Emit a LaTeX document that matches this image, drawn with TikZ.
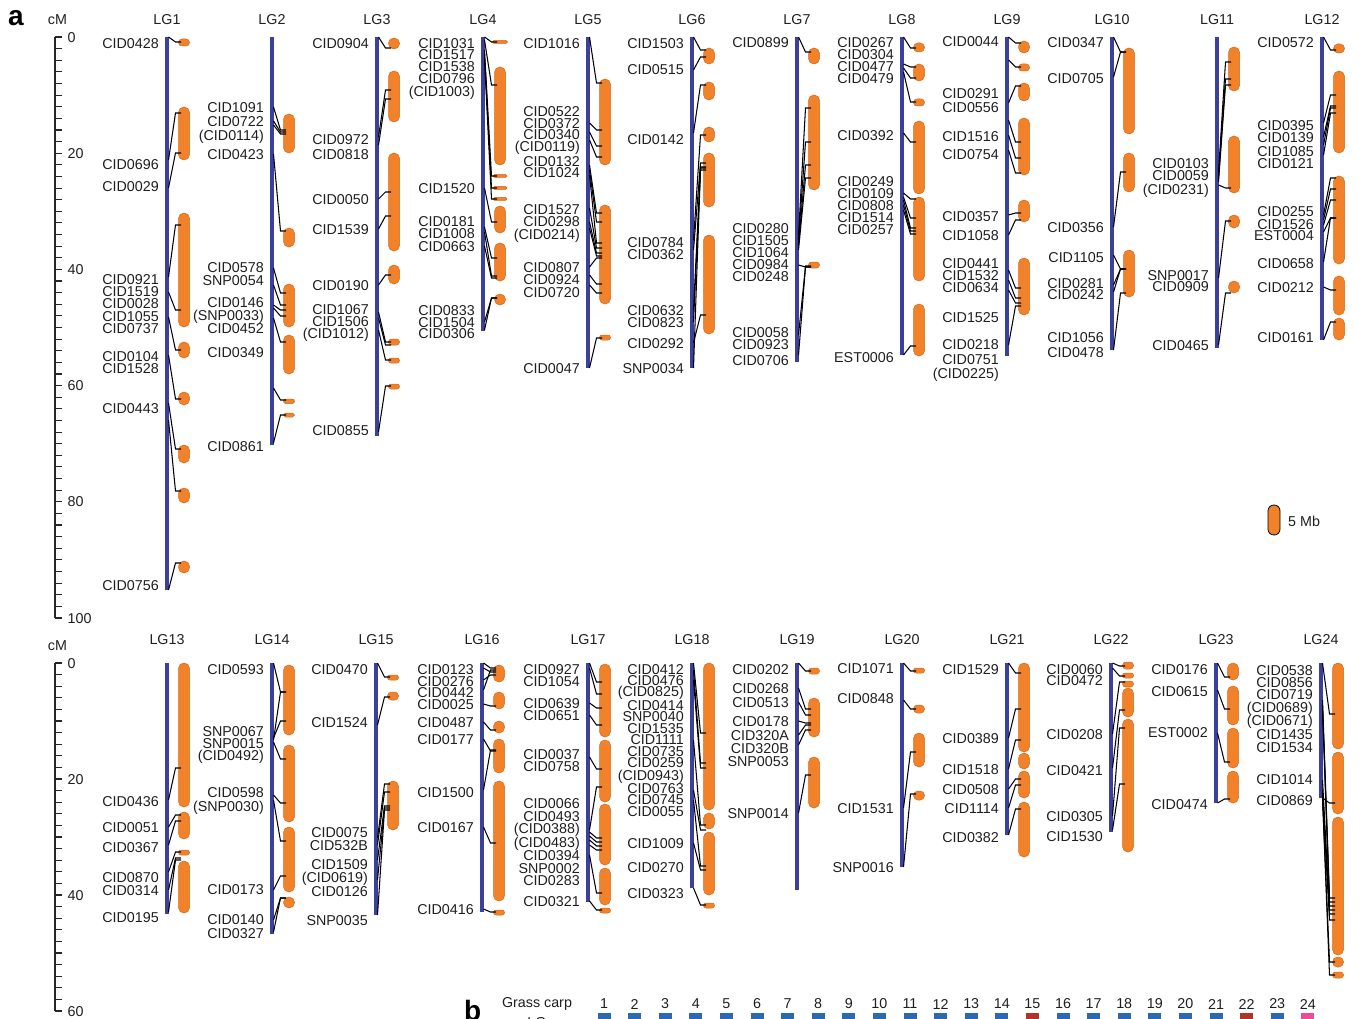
\documentclass[tikz,border=0pt]{standalone}
\usepackage{fontspec}
\setmainfont{Liberation Sans}
\definecolor{chromblue}{RGB}{58,64,156}
\definecolor{scaforange}{RGB}{242,130,42}
\definecolor{scafedge}{RGB}{212,104,28}
\definecolor{sqblue}{RGB}{42,106,178}
\definecolor{sqred}{RGB}{178,52,36}
\definecolor{sqpink}{RGB}{236,76,152}
\newcount\nodeno
\def\bx{0}
\newcommand\lgrp[5]{\gdef\bx{#2}\node[ttl] (LG#1) at (#2,#5) {LG#1};\draw[chrom] (#2,#3) -- (#2,#4);}
\newcommand\mylab[2]{\global\advance\nodeno by 1 \node[lab] (m\the\nodeno) at (\bx-8,#2) {#1};}
\newcommand\scf[3][11]{\pgfmathsetmacro\rr{0.97*min(#1/2,(#3-#2)/2)}\draw[scaf,rounded corners=\rr pt] (\bx+17-#1/2,#2) rectangle (\bx+17+#1/2,#3);}
\newcommand\cnx[2]{\draw[con] (\bx+1.5,#1) -- (\bx+8.5,#2) -- (\bx+14,#2);}
\tikzset{
  lab/.style={anchor=east, inner sep=0pt, text=black!88, font=\fontsize{14.3}{14}\selectfont, text height=10.2pt, text depth=0pt},
  axl/.style={lab, anchor=west},
  ttl/.style={inner sep=0pt, text=black!88, font=\fontsize{14.3}{14}\selectfont},
  chrom/.style={draw=chromblue, line width=3.6pt},
  scaf/.style={fill=scaforange, draw=scafedge, line width=0.5pt},
  con/.style={draw=black, line width=1.05pt},
  axis/.style={draw=black!85, line width=1.1pt},
  panel/.style={inner sep=0pt, font=\fontsize{28}{28}\selectfont\bfseries}
}
\begin{document}
\begin{tikzpicture}[x=1pt,y=-1pt]
\useasboundingbox (0,0) rectangle (1359,1019);
\clip (0,0) rectangle (1359,1019);
\fill[white] (0,0) rectangle (1359,1019);
% panel letters
\node[panel] (pa) at (16,18) {a};
\node[panel, anchor=base west] (pb) at (464,1020) {b};
% axes
\node[ttl] (cm1) at (57.5,20) {cM};
\draw[axis] (55,37) -- (55,618);
\foreach \c in {0,2,...,100} \draw[axis] (55,37+\c*5.81) -- (62,37+\c*5.81);
\foreach \c in {0,20,...,100} \node[axl] (ax\c) at (67.5,37+\c*5.81) {\c};
\node[ttl] (cm2) at (57.5,646) {cM};
\draw[axis] (55,663) -- (55,1011);
\foreach \c in {0,2,...,60} \draw[axis] (55,663+\c*5.8) -- (62,663+\c*5.8);
\foreach \c in {0,20,...,60} \node[axl] (bx\c) at (67.5,663+\c*5.8) {\c};
% ---------------- LG1
\lgrp{1}{167}{37}{590}{20}
\scf{39}{46}\scf{107}{160}\scf{213}{327}\scf{342}{358}\scf{392}{405}\scf{445}{463}\scf{488}{503}\scf{561}{573}
\cnx{37}{42}\cnx{160}{113}\cnx{188}{153}\cnx{277}{225}\cnx{292}{310}\cnx{317}{350}\cnx{355}{399}\cnx{403}{449}\cnx{420}{491}\cnx{590}{563}
\mylab{CID0428}{43}\mylab{CID0696}{164}\mylab{CID0029}{186}\mylab{CID0921}{279}\mylab{CID1519}{291}\mylab{CID0028}{303}\mylab{CID1055}{316}\mylab{CID0737}{328}\mylab{CID0104}{356}\mylab{CID1528}{368}\mylab{CID0443}{408}\mylab{CID0756}{585}
% ---------------- LG2
\lgrp{2}{272}{37}{445}{20}
\scf{114}{153}\scf{228}{247}\scf{284}{327}\scf{335}{374}\scf{399}{403.5}\scf{413}{417}
\cnx{107}{130}\cnx{121}{132}\cnx{125}{134}\cnx{154}{231}\cnx{268}{293}\cnx{285}{305}\cnx{305}{310}\cnx{308}{316}\cnx{318}{342}\cnx{388}{400}\cnx{443}{415}
\mylab{CID1091}{107}\mylab{CID0722}{121}\mylab{(CID0114)}{135}\mylab{CID0423}{154}\mylab{CID0578}{267}\mylab{SNP0054}{280}\mylab{CID0146}{302}\mylab{(SNP0033)}{315}\mylab{CID0452}{328}\mylab{CID0349}{352}\mylab{CID0861}{446}
% ---------------- LG3
\lgrp{3}{377}{37}{436}{20}
\scf{38}{49}\scf{71}{122}\scf{153}{251}\scf{265}{284}\scf{339}{345}\scf{358}{363}\scf{384}{389}
\cnx{37}{48}\cnx{137}{90}\cnx{145}{99}\cnx{199}{192}\cnx{229}{216}\cnx{285}{275}\cnx{312}{342}\cnx{318}{345}\cnx{330}{360}\cnx{432}{386}
\mylab{CID0904}{43}\mylab{CID0972}{139}\mylab{CID0818}{154}\mylab{CID0050}{199}\mylab{CID1539}{229}\mylab{CID0190}{285}\mylab{CID1067}{309}\mylab{CID1506}{321}\mylab{(CID1012)}{333}\mylab{CID0855}{430}
% ---------------- LG4
\lgrp{4}{483}{37}{331}{20}
\scf[15]{40.5}{43.5}\scf{67}{165}\scf[14]{174.5}{177.5}\scf[14]{186.5}{189.5}\scf[14]{197.5}{200.5}\scf{206}{233}\scf{243}{281}\scf{294}{305}
\cnx{37}{42}\cnx{40}{85}\cnx{50}{176}\cnx{55}{188}\cnx{60}{199}\cnx{188}{222}\cnx{227}{258}\cnx{232}{276}\cnx{246}{278}\cnx{322}{298}\cnx{330}{298}
\mylab{CID1031}{43}\mylab{CID1517}{54}\mylab{CID1538}{66}\mylab{CID0796}{78}\mylab{(CID1003)}{91}\mylab{CID1520}{188}\mylab{CID0181}{221}\mylab{CID1008}{233}\mylab{CID0663}{246}\mylab{CID0833}{310}\mylab{CID1504}{322}\mylab{CID0306}{333}
% ---------------- LG5
\lgrp{5}{588}{37}{368}{20}
\scf{79}{165}\scf{205}{304}\scf{335}{340}
\cnx{37}{83}\cnx{123}{130}\cnx{132}{146}\cnx{140}{157}\cnx{165}{213}\cnx{170}{222}\cnx{175}{243}\cnx{208}{248}\cnx{222}{253}\cnx{228}{256}\cnx{267}{258}\cnx{275}{284}\cnx{285}{293}\cnx{368}{338}
\mylab{CID1016}{43}\mylab{CID0522}{111}\mylab{CID0372}{123}\mylab{CID0340}{134}\mylab{(CID0119)}{146}\mylab{CID0132}{161}\mylab{CID1024}{172}\mylab{CID1527}{209}\mylab{CID0298}{221}\mylab{(CID0214)}{234}\mylab{CID0807}{267}\mylab{CID0924}{279}\mylab{CID0720}{292}\mylab{CID0047}{368}
% ---------------- LG6
\lgrp{6}{692}{37}{368}{20}
\scf{48}{64}\scf{82}{100}\scf{127}{142}\scf{153}{207}\scf{235}{334}
\cnx{37}{50}\cnx{70}{57}\cnx{133}{85}\cnx{240}{135}\cnx{250}{163}\cnx{310}{167}\cnx{322}{170}\cnx{343}{315}\cnx{368}{168}
\mylab{CID1503}{43}\mylab{CID0515}{69}\mylab{CID0142}{139}\mylab{CID0784}{242}\mylab{CID0362}{254}\mylab{CID0632}{310}\mylab{CID0823}{322}\mylab{CID0292}{343}\mylab{SNP0034}{368}
% ---------------- LG7
\lgrp{7}{797}{37}{362}{20}
\scf{48}{64}\scf{95}{190}\scf{262}{268}
\cnx{37}{52}\cnx{235}{108}\cnx{240}{142}\cnx{245}{165}\cnx{250}{178}\cnx{265}{267}\cnx{335}{266}\cnx{355}{267}
\mylab{CID0899}{42}\mylab{CID0280}{228}\mylab{CID1505}{240}\mylab{CID1064}{252}\mylab{CID0984}{264}\mylab{CID0248}{276}\mylab{CID0058}{332}\mylab{CID0923}{344}\mylab{CID0706}{360}
% ---------------- LG8
\lgrp{8}{902}{37}{355}{20}
\scf{43}{52}\scf{64}{81}\scf{99}{106}\scf{121}{194}\scf{197}{281}\scf{304}{356}
\cnx{37}{48}\cnx{64}{67}\cnx{68}{78}\cnx{72}{102}\cnx{133}{142}\cnx{193}{199}\cnx{197}{218}\cnx{200}{228}\cnx{205}{231}\cnx{210}{234}\cnx{355}{346}
\mylab{CID0267}{42}\mylab{CID0304}{54}\mylab{CID0477}{66}\mylab{CID0479}{78}\mylab{CID0392}{135}\mylab{CID0249}{181}\mylab{CID0109}{193}\mylab{CID0808}{205}\mylab{CID1514}{217}\mylab{CID0257}{229}\mylab{EST0006}{357}
% ---------------- LG9
\lgrp{9}{1007}{37}{356}{20}
\scf{41}{53}\scf{64}{71}\scf{83}{101}\scf{118}{175}\scf{200}{222}\scf{258}{315}
\cnx{37}{43}\cnx{60}{67}\cnx{103}{86}\cnx{120}{142}\cnx{135}{158}\cnx{150}{173}\cnx{215}{213}\cnx{235}{220}\cnx{270}{288}\cnx{280}{298}\cnx{290}{303}\cnx{345}{306}
\mylab{CID0044}{41}\mylab{CID0291}{93}\mylab{CID0556}{107}\mylab{CID1516}{136}\mylab{CID0754}{154}\mylab{CID0357}{216}\mylab{CID1058}{235}\mylab{CID0441}{263}\mylab{CID1532}{275}\mylab{CID0634}{287}\mylab{CID1525}{317}\mylab{CID0218}{344}\mylab{CID0751}{359}\mylab{(CID0225)}{373}
% ---------------- LG10
\lgrp{10}{1112}{37}{350}{20}
\scf{48}{134}\scf{153}{192}\scf{250}{297}
\cnx{37}{52}\cnx{77}{52}\cnx{227}{172}\cnx{255}{269}\cnx{285}{269}\cnx{292}{269}\cnx{350}{293}
\mylab{CID0347}{42}\mylab{CID0705}{78}\mylab{CID0356}{227}\mylab{CID1105}{257}\mylab{CID0281}{283}\mylab{CID0242}{294}\mylab{CID1056}{337}\mylab{CID0478}{352}
% ---------------- LG11
\lgrp{11}{1217}{37}{348}{20}
\scf{47}{91}\scf{136}{193}\scf{215}{228}\scf{281}{293}
\cnx{172}{62}\cnx{178}{79}\cnx{182}{85}\cnx{185}{188}\cnx{278}{221}\cnx{345}{293}
\mylab{CID0103}{163}\mylab{CID0059}{175}\mylab{(CID0231)}{189}\mylab{SNP0017}{275}\mylab{CID0909}{286}\mylab{CID0465}{345}
% ---------------- LG12
\lgrp{12}{1322}{37}{340}{20}
\scf{44}{53}\scf{71}{153}\scf{176}{264}\scf{276}{315}\scf{318}{340}
\cnx{37}{50}\cnx{123}{95}\cnx{137}{106}\cnx{145}{108}\cnx{155}{113}\cnx{215}{178}\cnx{220}{189}\cnx{225}{200}\cnx{232}{218}\cnx{262}{218}\cnx{287}{290}\cnx{340}{322}
\mylab{CID0572}{42}\mylab{CID0395}{125}\mylab{CID0139}{137}\mylab{CID1085}{151}\mylab{CID0121}{163}\mylab{CID0255}{211}\mylab{CID1526}{224}\mylab{EST0004}{235}\mylab{CID0658}{263}\mylab{CID0212}{287}\mylab{CID0161}{337}
% legend
\draw[fill=scaforange, draw=black, line width=0.8pt, rounded corners=5.8pt] (1268,505) rectangle (1280,535);
\node[lab, anchor=west] (mb) at (1288,521) {5 Mb};
% ================= bottom panel
\lgrp{13}{167}{663}{914}{640}
\scf{663}{807}\scf{812}{839}\scf{850}{855}\scf{861}{913}
\cnx{800}{768}\cnx{827}{815}\cnx{845}{821}\cnx{872}{852}\cnx{890}{858}\cnx{912}{860}
\mylab{CID0436}{801}\mylab{CID0051}{827}\mylab{CID0367}{847}\mylab{CID0870}{877}\mylab{CID0314}{890}\mylab{CID0195}{917}
% LG14
\lgrp{14}{272}{663}{934}{640}
\scf{665}{735}\scf{745}{822}\scf{827}{892}\scf{897}{908}
\cnx{663}{692}\cnx{738}{721}\cnx{740}{692}\cnx{742}{759}\cnx{795}{803}\cnx{800}{841}\cnx{890}{876}\cnx{920}{898}\cnx{932}{898}
\mylab{CID0593}{669}\mylab{SNP0067}{731}\mylab{SNP0015}{743}\mylab{(CID0492)}{755}\mylab{CID0598}{792}\mylab{(SNP0030)}{806}\mylab{CID0173}{889}\mylab{CID0140}{919}\mylab{CID0327}{933}
% LG15
\lgrp{15}{376}{663}{915}{640}
\scf{675}{680}\scf{692}{700}\scf{781}{830}
\cnx{663}{677}\cnx{725}{697}\cnx{838}{784}\cnx{845}{792}\cnx{860}{806}\cnx{880}{808}\cnx{915}{810}
\mylab{CID0470}{669}\mylab{CID1524}{722}\mylab{CID0075}{832}\mylab{CID532B}{845}\mylab{CID1509}{864}\mylab{(CID0619)}{877}\mylab{CID0126}{891}\mylab{SNP0035}{920}
% LG16
\lgrp{16}{482}{663}{912}{640}
\scf{665}{682}\scf{692}{709}\scf{721}{733}\scf{739}{773}\scf{781}{901}\scf{910}{915}
\cnx{663}{668}\cnx{668}{672}\cnx{680}{675}\cnx{690}{670}\cnx{704}{706}\cnx{722}{730}\cnx{739}{751}\cnx{790}{750}\cnx{827}{843}\cnx{909}{912}
\mylab{CID0123}{669}\mylab{CID0276}{681}\mylab{CID0442}{692}\mylab{CID0025}{704}\mylab{CID0487}{722}\mylab{CID0177}{739}\mylab{CID1500}{792}\mylab{CID0167}{827}\mylab{CID0416}{909}
% LG17
\lgrp{17}{588}{663}{902}{640}
\scf{664}{737}\scf{740}{802}\scf{804}{865}\scf{868}{905}\scf{908}{913}
\cnx{663}{682}\cnx{668}{694}\cnx{703}{708}\cnx{715}{725}\cnx{757}{769}\cnx{830}{787}\cnx{832}{838}\cnx{836}{842}\cnx{840}{846}\cnx{845}{850}\cnx{855}{893}\cnx{901}{910}
\mylab{CID0927}{669}\mylab{CID1054}{681}\mylab{CID0639}{703}\mylab{CID0651}{715}\mylab{CID0037}{754}\mylab{CID0758}{766}\mylab{CID0066}{803}\mylab{CID0493}{816}\mylab{(CID0388)}{828}\mylab{(CID0483)}{842}\mylab{CID0394}{855}\mylab{SNP0002}{868}\mylab{CID0283}{880}\mylab{CID0321}{901}
% LG18
\lgrp{18}{692}{663}{888}{640}
\scf{663}{810}\scf{813}{829}\scf{832}{895}\scf{903}{908}
\cnx{663}{733}\cnx{670}{763}\cnx{680}{768}\cnx{740}{825}\cnx{790}{830}\cnx{800}{866}\cnx{843}{870}\cnx{888}{905}
\mylab{CID0412}{669}\mylab{CID0476}{680}\mylab{(CID0825)}{691}\mylab{CID0414}{705}\mylab{SNP0040}{716}\mylab{CID1535}{728}\mylab{CID1111}{739}\mylab{CID0735}{751}\mylab{CID0259}{762}\mylab{(CID0943)}{775}\mylab{CID0763}{788}\mylab{CID0745}{799}\mylab{CID0055}{811}\mylab{CID1009}{843}\mylab{CID0270}{867}\mylab{CID0323}{893}
% LG19
\lgrp{19}{797}{663}{890}{640}
\scf{668}{674}\scf{698}{737}\scf{757}{808}
\cnx{663}{671}\cnx{688}{709}\cnx{702}{715}\cnx{721}{723}\cnx{735}{725}\cnx{745}{730}\cnx{813}{775}
\mylab{CID0202}{669}\mylab{CID0268}{688}\mylab{CID0513}{702}\mylab{CID0178}{721}\mylab{CID320A}{735}\mylab{CID320B}{748}\mylab{SNP0053}{761}\mylab{SNP0014}{813}
% LG20
\lgrp{20}{902}{663}{867}{640}
\scf{668}{673}\scf{705}{713}\scf{733}{767}\scf{791}{800}
\cnx{663}{671}\cnx{700}{709}\cnx{808}{752}\cnx{867}{794}
\mylab{CID1071}{668}\mylab{CID0848}{698}\mylab{CID1531}{808}\mylab{SNP0016}{867}
% LG21
\lgrp{21}{1007}{663}{835}{640}
\scf{663}{752}\scf{753}{769}\scf{771}{798}\scf{802}{857}
\cnx{663}{673}\cnx{738}{709}\cnx{769}{740}\cnx{789}{779}\cnx{808}{785}\cnx{835}{809}
\mylab{CID1529}{669}\mylab{CID0389}{738}\mylab{CID1518}{769}\mylab{CID0508}{789}\mylab{CID1114}{808}\mylab{CID0382}{837}
% LG22
\lgrp{22}{1111}{663}{832}{640}
\scf{662}{669}\scf{673}{678}\scf{681}{687}\scf{688}{717}\scf{719}{852}
\cnx{663}{666}\cnx{668}{676}\cnx{734}{682}\cnx{768}{710}\cnx{816}{728}\cnx{830}{784}
\mylab{CID0060}{669}\mylab{CID0472}{680}\mylab{CID0208}{734}\mylab{CID0421}{770}\mylab{CID0305}{816}\mylab{CID1530}{836}
% LG23
\lgrp{23}{1216}{663}{803}{640}
\scf{663}{680}\scf{686}{725}\scf{728}{768}\scf{771}{803}
\cnx{663}{677}\cnx{690}{709}\cnx{733}{762}\cnx{803}{799}
\mylab{CID0176}{669}\mylab{CID0615}{691}\mylab{EST0002}{732}\mylab{CID0474}{804}
% LG24
\lgrp{24}{1321}{663}{798}{640}
\scf{663}{749}\scf{752}{814}\scf{817}{955}\scf{957}{967}\scf{972}{978}
\cnx{663}{714}\cnx{798}{803}\cnx{700}{898}\cnx{705}{902}\cnx{710}{906}\cnx{780}{910}\cnx{790}{914}\cnx{795}{920}\cnx{798}{962}\cnx{798}{975}
\mylab{CID0538}{670}\mylab{CID0856}{682}\mylab{CID0719}{694}\mylab{(CID0689)}{707}\mylab{(CID0671)}{720}\mylab{CID1435}{734}\mylab{CID1534}{747}\mylab{CID1014}{779}\mylab{CID0869}{800}
% ================= panel b
\node[ttl] (gc) at (537,1004) {Grass carp};
\node[ttl] (gclg) at (537,1023) {LG};
\foreach \i in {1,...,24} {
  \pgfmathsetmacro\xx{604+(\i-1)*30.6}
  \node[ttl] (n\i) at (\xx,1004) {\i};
  \ifnum\i=15 \def\sqc{sqred}\else\ifnum\i=22 \def\sqc{sqred}\else\ifnum\i=24 \def\sqc{sqpink}\else\def\sqc{sqblue}\fi\fi\fi
  \fill[\sqc] (\xx-6.5,1013) rectangle (\xx+6.5,1030);
}
\end{tikzpicture}
\end{document}
